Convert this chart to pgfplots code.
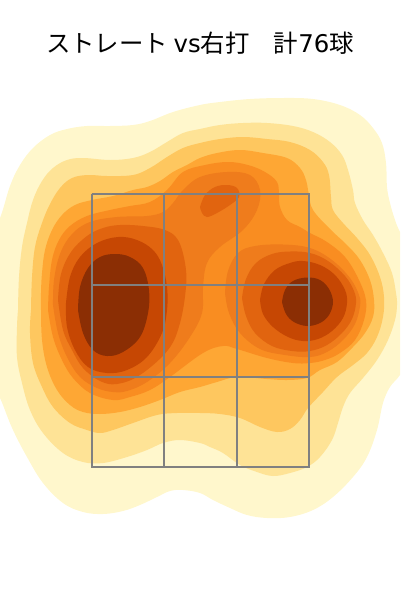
\documentclass[border=0pt]{standalone}
\usepackage{pgfplots}
\pgfplotsset{compat=1.18}
\usepackage{fontspec}
\setmainfont{Noto Sans CJK JP}
\newfontfamily\lat{DejaVu Sans}
\definecolor{La}{RGB}{255,247,204}
\definecolor{Lb}{RGB}{254,227,150}
\definecolor{Lc}{RGB}{254,199,95}
\definecolor{Ld}{RGB}{254,167,52}
\definecolor{Le}{RGB}{249,141,33}
\definecolor{Lf}{RGB}{239,124,28}
\definecolor{Lg}{RGB}{225,100,15}
\definecolor{Lh}{RGB}{198,71,3}
\definecolor{Li}{RGB}{139,46,4}
\definecolor{zone}{RGB}{128,128,128}
\begin{document}
\begin{tikzpicture}[x=1pt,y=1pt]
\useasboundingbox (0,0) rectangle (400,600);
\begin{axis}[at={(0,0)},anchor=south west,width=400pt,height=600pt,scale only axis,
  xmin=0,xmax=400,ymin=0,ymax=600,y dir=reverse,hide axis]
\pgfplotsset{cont/.style={draw=none,smooth,tension=0.62,no marks},zn/.style={draw=zone,line width=2pt,sharp plot,no marks}}
% level 1
\addplot[cont,fill=La] coordinates {(-15,250)(0,218)(10,186)(20,165)(33,148)(50,135)(67,129)(87,126)(110,126)(133,125)(150,121)(173,112)(200,105)(220,102)(250,99)(283,98)(313,99)(340,105)(360,115)(373,128)(382,143)(386,163)(387,187)(390,203)(395,220)(400,232)(412,255)(416,310)(412,355)(400,375)(390,387)(383,403)(377,430)(367,457)(353,477)(333,497)(313,510)(290,517)(267,518)(247,515)(230,508)(213,500)(200,493)(183,490)(170,491)(157,497)(140,505)(123,511)(103,514)(83,512)(63,503)(43,483)(27,457)(13,430)(3,405)(-8,375)(-18,310)(-15,250)};
% level 2
\addplot[cont,fill=Lb] coordinates {(18,310)(19,277)(22,247)(27,223)(33,200)(42,181)(53,168)(67,160)(83,158)(110,160)(133,158)(150,152)(167,142)(183,133)(200,129)(220,125)(243,123)(267,123)(293,126)(313,132)(330,142)(342,155)(348,170)(353,190)(355,203)(363,220)(373,235)(383,253)(392,273)(396,293)(397,305)(395,320)(388,340)(377,360)(363,378)(350,393)(343,407)(338,423)(332,440)(320,457)(307,467)(290,473)(273,476)(257,472)(240,465)(223,453)(210,447)(200,443)(180,440)(163,443)(147,450)(127,457)(103,463)(83,462)(63,453)(43,433)(30,410)(22,383)(17,357)(17,327)(18,310)};
% level 3
\addplot[cont,fill=Lc] coordinates {(31,310)(32,277)(35,247)(42,223)(50,204)(60,188)(72,178)(88,175)(107,176)(133,175)(150,168)(167,157)(183,148)(200,143)(220,139)(243,137)(267,139)(290,142)(310,150)(323,162)(329,175)(331,197)(333,210)(343,223)(357,238)(370,255)(380,277)(384,297)(383,317)(377,337)(367,353)(353,365)(337,377)(323,392)(308,408)(300,420)(290,429)(277,432)(260,427)(240,418)(220,414)(200,413)(177,413)(157,415)(133,423)(113,430)(100,433)(87,430)(70,423)(53,407)(42,387)(33,363)(30,333)(31,310)};
% level 4
\addplot[cont,fill=Ld] coordinates {(41,310)(41,293)(42,273)(45,250)(52,230)(62,215)(75,205)(92,200)(113,196)(133,190)(147,187)(160,181)(173,172)(187,165)(200,158)(217,153)(240,150)(263,153)(287,158)(300,168)(306,180)(309,195)(313,210)(330,229)(347,245)(360,260)(370,280)(374,300)(373,317)(365,333)(353,347)(337,362)(320,370)(307,378)(287,380)(267,379)(237,377)(217,382)(200,387)(180,392)(160,400)(140,407)(120,412)(100,414)(83,412)(70,405)(57,390)(47,367)(42,340)(41,310)};
% level 5
\addplot[cont,fill=Le] coordinates {(48,310)(49,287)(52,260)(59,240)(70,226)(87,216)(110,210)(130,206)(150,202)(167,190)(183,172)(205,165)(228,162)(248,165)(265,172)(277,182)(279,195)(280,207)(287,220)(300,227)(310,233)(327,242)(345,257)(358,278)(366,300)(364,320)(355,340)(340,353)(325,360)(310,363)(293,363)(267,358)(237,349)(223,346)(203,353)(170,377)(150,390)(130,397)(113,400)(90,393)(73,378)(62,360)(53,337)(48,310)};
% level 6, left and top
\addplot[cont,fill=Lf] coordinates {(53,305)(54,280)(60,254)(72,234)(90,222)(117,217)(147,216)(163,212)(173,203)(183,190)(200,177)(227,172)(250,175)(260,190)(257,210)(243,230)(220,247)(207,263)(203,287)(202,313)(190,337)(170,363)(147,382)(127,391)(113,392)(97,388)(80,377)(67,357)(58,333)(53,305)};
% level 6, right
\addplot[cont,fill=Lf] coordinates {(225,293)(228,271)(238,253)(255,246)(283,244.5)(310,248)(332,260)(350,278)(359,295)(360,306)(355,324)(343,340)(327,352)(310,357)(285,355)(260,349)(240,333)(229,313)(225,293)};
% level 7, left
\addplot[cont,fill=Lg] coordinates {(58,300)(61,274)(71,252)(87,236)(103,228)(120,225)(143,226)(165,230)(178,240)(185,263)(186,287)(180,323)(168,350)(140,375)(117,384)(100,381)(83,368)(72,350)(63,330)(58,300)};
% level 7, top
\addplot[cont,fill=Lg] coordinates {(200,207)(205,195)(215,187)(227,185)(237,188)(239,197)(230,205)(217,213)(207,217)(202,213)(200,207)};
% level 7, right
\addplot[cont,fill=Lg] coordinates {(242,298)(246,279)(256,263)(272,254)(290,251.5)(310,253)(328,261)(345,276)(354,291)(356,303)(352,319)(342,333)(327,345)(310,351)(292,351)(272,346)(255,333)(246,316)(242,298)};
% level 8, left
\addplot[cont,fill=Lh] coordinates {(66,303)(70,277)(80,257)(97,243)(118,237)(137,240)(153,250)(162,265)(167,287)(167,310)(162,333)(147,357)(127,370)(107,373)(88,367)(75,350)(67,327)(66,303)};
% level 8, right
\addplot[cont,fill=Lh] coordinates {(260,300)(264,284)(275,270)(290,263)(303,261)(320,265)(335,275)(345,290)(347,303)(343,318)(332,331)(318,339)(303,341)(288,337)(273,327)(263,314)(260,300)};
% level 9, left
\addplot[cont,fill=Li] coordinates {(78,310)(80,287)(88,268)(100,257)(115,254)(130,257)(143,268)(149,290)(148,313)(140,337)(123,352)(107,356)(93,350)(83,333)(78,310)};
% level 9, right
\addplot[cont,fill=Li] coordinates {(282,302)(285,290)(293,281)(307,277.5)(320,280)(329,289)(333,302)(329,315)(320,323)(307,326)(294,322)(286,314)(282,302)};
% strike zone
\addplot[zn] coordinates {(91.7,193.7)(309.3,193.7)(309.3,467)(91.7,467)(91.7,193.7)};
\addplot[zn] coordinates {(164.3,193.7)(164.3,467)};
\addplot[zn] coordinates {(236.9,193.7)(236.9,467)};
\addplot[zn] coordinates {(91.7,285.3)(309.3,285.3)};
\addplot[zn] coordinates {(91.7,377.3)(309.3,377.3)};
\node[font=\fontsize{24.4}{28}\selectfont,anchor=center,inner sep=0pt] at (axis cs:200,43) {ストレート {\lat vs}右打　計{\lat 76}球};
\end{axis}
\end{tikzpicture}
\end{document}
